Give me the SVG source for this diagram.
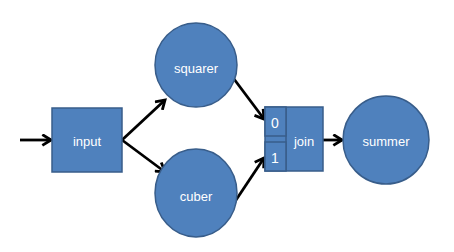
<svg xmlns="http://www.w3.org/2000/svg" width="454" height="252" viewBox="0 0 454 252">
<defs>
<marker id="ah" viewBox="0 0 12 12" refX="10" refY="6" markerWidth="13" markerHeight="13" markerUnits="userSpaceOnUse" orient="auto">
<path d="M2,1 L10,6 L2,11" fill="none" stroke="#000" stroke-width="2.6" stroke-linejoin="miter"/>
</marker>
</defs>
<style>
.n{fill:#4F81BD;stroke:#385D8A;stroke-width:1.5}
.t{fill:#fff;font-family:"Liberation Sans",Arial,sans-serif;font-size:13px;text-anchor:middle;dominant-baseline:central}
.d{font-size:14px}
.c{stroke:#000;stroke-width:2.8;fill:none;marker-end:url(#ah)}
</style>
<rect width="454" height="252" fill="#fff"/>
<g id="connectors">
<line class="c" x1="20" y1="140" x2="51" y2="140"/>
<line class="c" x1="122" y1="140" x2="165" y2="100"/>
<line class="c" x1="122" y1="140" x2="165" y2="172"/>
<line class="c" x1="234" y1="79" x2="264" y2="119"/>
<line class="c" x1="234" y1="203" x2="264" y2="158"/>
<line class="c" x1="323" y1="140" x2="342" y2="140"/>
</g>
<g id="input">
<rect class="n" x="52" y="108" width="70" height="64"/>
<text class="t" x="87" y="141">input</text>
</g>
<g id="squarer">
<ellipse class="n" cx="196" cy="65" rx="41" ry="42"/>
<text class="t" x="196" y="68">squarer</text>
</g>
<g id="cuber">
<ellipse class="n" cx="196" cy="193" rx="41" ry="44"/>
<text class="t" x="196" y="196">cuber</text>
</g>
<g id="join">
<rect class="n" x="265" y="107" width="58" height="64"/>
<line x1="286" y1="107" x2="286" y2="171" stroke="#385D8A" stroke-width="1.5"/>
<rect class="n" x="265" y="107" width="21" height="29"/>
<rect class="n" x="265" y="142" width="21" height="29"/>
<text class="t d" x="275" y="123">0</text>
<text class="t d" x="275" y="158">1</text>
<text class="t" x="304" y="141">join</text>
</g>
<g id="summer">
<ellipse class="n" cx="386" cy="140" rx="43" ry="44"/>
<text class="t" x="386" y="141">summer</text>
</g>
</svg>
